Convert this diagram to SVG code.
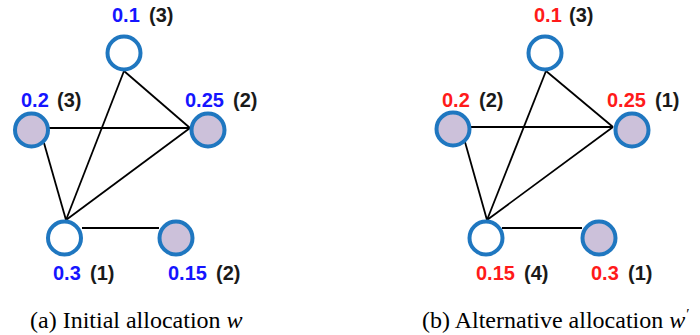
<svg xmlns="http://www.w3.org/2000/svg" width="700" height="335" viewBox="0 0 700 335">
<style>
.nd{stroke:#1f77c0;stroke-width:4}
.w{fill:#ffffff}
.f{fill:#ccc1da}
.e line{stroke:#000;stroke-width:1.8}
.lb{font-family:"Liberation Sans",Arial,sans-serif;font-weight:bold;font-size:20px}
.b{fill:#1515ff}
.r{fill:#ff1a1a}
.k{fill:#1a1a1a}
.cap{font-family:"Liberation Serif","Times New Roman",serif;font-size:24px;fill:#000}
</style>
<rect width="700" height="335" fill="#fff"/>
<g id="connectors-a" class="e">
<line x1="124" y1="71" x2="190" y2="128"/>
<line x1="124" y1="71" x2="66" y2="220"/>
<line x1="49" y1="128" x2="190" y2="128"/>
<line x1="44" y1="143" x2="66" y2="220"/>
<line x1="190" y1="128" x2="66" y2="220"/>
<line x1="82" y1="228" x2="159" y2="228"/>
</g>
<g id="connectors-b" class="e">
<line x1="546" y1="71" x2="613" y2="127"/>
<line x1="546" y1="71" x2="487" y2="220"/>
<line x1="471" y1="127" x2="613" y2="127"/>
<line x1="465" y1="142" x2="487" y2="220"/>
<line x1="613" y1="127" x2="487" y2="220"/>
<line x1="502" y1="228" x2="582" y2="228"/>
</g>
<g id="a-top"><circle class="nd w" cx="124" cy="53" r="16.5"/><text class="lb" y="22"><tspan class="b" x="112">0.1</tspan><tspan class="k" x="149">(3)</tspan></text></g>
<g id="a-left"><circle class="nd f" cx="31.5" cy="130" r="16.5"/><text class="lb" y="107"><tspan class="b" x="21">0.2</tspan><tspan class="k" x="57">(3)</tspan></text></g>
<g id="a-right"><circle class="nd f" cx="208" cy="130" r="16.5"/><text class="lb" y="107"><tspan class="b" x="185">0.25</tspan><tspan class="k" x="233">(2)</tspan></text></g>
<g id="a-bl"><circle class="nd w" cx="64.5" cy="238" r="16.5"/><text class="lb" y="280"><tspan class="b" x="53">0.3</tspan><tspan class="k" x="90">(1)</tspan></text></g>
<g id="a-br"><circle class="nd f" cx="176" cy="238" r="16.5"/><text class="lb" y="280"><tspan class="b" x="168">0.15</tspan><tspan class="k" x="216">(2)</tspan></text></g>
<g id="b-top"><circle class="nd w" cx="545" cy="53" r="16.5"/><text class="lb" y="22"><tspan class="r" x="534">0.1</tspan><tspan class="k" x="569">(3)</tspan></text></g>
<g id="b-left"><circle class="nd f" cx="453" cy="129" r="16.5"/><text class="lb" y="107"><tspan class="r" x="442">0.2</tspan><tspan class="k" x="479">(2)</tspan></text></g>
<g id="b-right"><circle class="nd f" cx="632" cy="130" r="16.5"/><text class="lb" y="107"><tspan class="r" x="607">0.25</tspan><tspan class="k" x="655">(1)</tspan></text></g>
<g id="b-bl"><circle class="nd w" cx="486" cy="238" r="16.5"/><text class="lb" y="280"><tspan class="r" x="476">0.15</tspan><tspan class="k" x="524">(4)</tspan></text></g>
<g id="b-br"><circle class="nd f" cx="599" cy="238" r="16.5"/><text class="lb" y="280"><tspan class="r" x="591">0.3</tspan><tspan class="k" x="628">(1)</tspan></text></g>
<text class="cap" x="30" y="328">(a) Initial allocation <tspan font-style="italic">w</tspan></text>
<text class="cap" x="422" y="328">(b) Alternative allocation <tspan font-style="italic">w</tspan><tspan dx="1" dy="-9" font-size="15">′</tspan></text>
</svg>
